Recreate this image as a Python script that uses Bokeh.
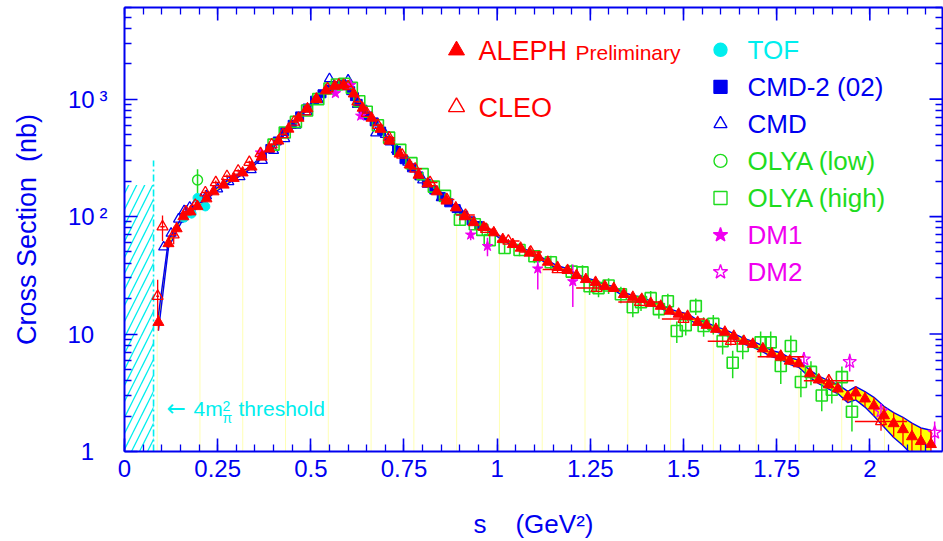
import numpy as np
from bokeh.plotting import figure
from bokeh.models import Range1d, FixedTicker, LinearAxis, LogAxis
from bokeh.core.properties import value
from bokeh.embed import file_html
from bokeh.resources import INLINE

# ---------------- data ----------------
m_pi = 0.13957
threshold = 4 * m_pi ** 2
hatch_top = 186.0
thr_line_top = 300.0

aleph_s = [0.091, 0.118, 0.140, 0.158, 0.177, 0.196, 0.220, 0.239, 0.266, 0.293,
           0.317, 0.341, 0.368, 0.389, 0.413, 0.440, 0.467, 0.491, 0.515, 0.540,
           0.564, 0.588, 0.615, 0.639, 0.663, 0.687, 0.711, 0.738, 0.765, 0.789,
           0.813, 0.838, 0.864, 0.889, 0.913, 0.937, 0.964, 0.991, 1.015, 1.042,
           1.063, 1.087, 1.111, 1.136, 1.162, 1.189, 1.213, 1.238, 1.264, 1.289,
           1.313, 1.340, 1.364, 1.388, 1.412, 1.439, 1.463, 1.487, 1.511, 1.538,
           1.562, 1.587, 1.611, 1.635, 1.662, 1.686, 1.713, 1.737, 1.761, 1.785,
           1.809, 1.839, 1.863, 1.890, 1.914, 1.941, 1.962, 1.987, 2.011, 2.038,
           2.064, 2.089, 2.113, 2.137, 2.164]
aleph_sig = [12.6, 59, 79, 100, 110, 122, 142, 163, 186, 212,
             236, 265, 322, 377, 441, 557, 690, 830, 1000, 1180,
             1290, 1318, 1110, 840, 690, 555, 440, 342, 276, 226,
             190, 163, 136, 119, 100, 89, 81, 73, 64, 58,
             54, 49, 45, 41, 37, 34.9, 31.6, 29.2, 27.6, 25.5,
             24.5, 21.8, 20.6, 19.8, 18.3, 17.3, 15.7, 14.8, 14.2, 12.6,
             11.9, 11.0, 10.4, 9.6, 8.7, 8.2, 7.5, 6.8, 6.5, 5.9,
             5.6, 4.6, 4.08, 3.7, 3.42, 2.93, 3.16, 2.81, 2.45, 2.02,
             1.73, 1.54, 1.34, 1.22, 1.15]
aleph_rel = [0.15, 0.08, 0.05, 0.04, 0.04, 0.03, 0.03, 0.03, 0.03, 0.03,
             0.03, 0.025, 0.02, 0.02, 0.02, 0.02, 0.015, 0.015, 0.015, 0.015,
             0.015, 0.015, 0.015, 0.015, 0.015, 0.015, 0.02, 0.02, 0.02, 0.02,
             0.02, 0.02, 0.02, 0.02, 0.02, 0.025, 0.025, 0.025, 0.025, 0.025,
             0.025, 0.03, 0.03, 0.03, 0.03, 0.03, 0.03, 0.03, 0.035, 0.035,
             0.035, 0.035, 0.035, 0.04, 0.04, 0.04, 0.04, 0.045, 0.045, 0.045,
             0.05, 0.05, 0.05, 0.05, 0.055, 0.055, 0.06, 0.06, 0.065, 0.065,
             0.07, 0.07, 0.075, 0.08, 0.09, 0.11, 0.13, 0.15, 0.18, 0.20,
             0.24, 0.27, 0.30, 0.30, 0.32]

cleo_s = [0.089, 0.102, 0.132, 0.165, 0.190, 0.217, 0.245, 0.275, 0.305, 0.335,
          0.365, 0.395, 0.425, 0.455, 0.485, 0.515, 0.545, 0.575, 0.600, 0.625,
          0.650, 0.680, 0.710, 0.745, 0.780, 0.820, 0.865, 0.915, 0.970, 1.030,
          1.090, 1.162, 1.267, 1.383, 1.500, 1.627, 1.761, 1.890, 2.030]
cleo_sig = [21, 82, 70, 110, 125, 160, 195, 220, 245, 290,
            345, 410, 500, 640, 780, 1000, 1230, 1320, 1280, 950,
            760, 600, 470, 335, 255, 195, 140, 103, 78, 62,
            50, 35.5, 24.6, 18.7, 13.4, 8.7, 6.4, 4.0, 1.8]
cleo_yerr = [8, 20, 12, 8, 8, 8, 8, 8, 8, 9,
             10, 12, 14, 18, 20, 25, 30, 30, 30, 25,
             20, 16, 13, 10, 8, 6, 5, 4, 3, 2.5,
             2, 2, 1.4, 1.1, 0.9, 0.7, 0.6, 0.5, 0.3]
cleo_xerr = [0.004, 0.006, 0.008, 0.01, 0.01, 0.01, 0.01, 0.01, 0.01, 0.01,
             0.01, 0.01, 0.01, 0.01, 0.012, 0.012, 0.012, 0.012, 0.012, 0.012,
             0.012, 0.015, 0.015, 0.015, 0.018, 0.02, 0.02, 0.025, 0.025, 0.03,
             0.03, 0.04, 0.055, 0.058, 0.058, 0.062, 0.062, 0.067, 0.07]

cmd2_s = [0.370, 0.390, 0.410, 0.430, 0.450, 0.470, 0.490, 0.510, 0.530, 0.550,
          0.570, 0.585, 0.597, 0.607, 0.617, 0.627, 0.640, 0.655, 0.670, 0.690,
          0.710, 0.730, 0.750, 0.770, 0.790, 0.810, 0.830, 0.850, 0.870, 0.890,
          0.910, 0.930, 0.950]
cmd2_sig = [330, 380, 440, 530, 610, 720, 840, 980, 1110, 1220,
            1300, 1330, 1300, 1180, 1050, 920, 820, 720, 640, 535,
            440, 365, 305, 260, 222, 192, 168, 148, 131, 117,
            103, 92, 84]

cmd_s = [0.105, 0.125, 0.145, 0.160, 0.175, 0.190, 0.205, 0.220, 0.250, 0.280,
         0.310, 0.340, 0.370, 0.400, 0.430, 0.460, 0.490, 0.520, 0.550, 0.575,
         0.600, 0.625, 0.650, 0.674, 0.700, 0.730, 0.760, 0.800, 0.850, 0.900]
cmd_sig = [55, 72, 95, 112, 120, 128, 140, 150, 172, 198,
           218, 250, 300, 365, 460, 600, 780, 990, 1490, 1300,
           1450, 900, 720, 515, 500, 370, 290, 205, 145, 110]

tof_s = [0.160, 0.180, 0.196, 0.217]
tof_sig = [98, 106, 144, 122]
tof_err = [8, 9, 12, 10]

olya_low_s = [0.196]
olya_low_sig = [205]
olya_low_err = [48]

olya_s = [0.40, 0.43, 0.46, 0.49, 0.52, 0.55, 0.57, 0.59, 0.61, 0.63,
          0.65, 0.68, 0.71, 0.74, 0.77, 0.80, 0.83, 0.86, 0.90, 0.94,
          0.96, 0.98, 1.02, 1.06, 1.10, 1.144, 1.20, 1.229, 1.248, 1.272,
          1.299, 1.332, 1.364, 1.386, 1.412, 1.434, 1.458, 1.482, 1.506, 1.533,
          1.554, 1.580, 1.605, 1.632, 1.659, 1.707, 1.734, 1.761, 1.788, 1.815,
          1.842, 1.871, 1.898, 1.925, 1.952]
olya_sig = [410, 520, 640, 800, 1000, 1230, 1330, 1350, 1250, 960,
            780, 600, 470, 370, 285, 230, 180, 150, 94, 86,
            77, 63, 54, 52, 46, 40.8, 34, 33.5, 25.5, 24.6,
            25.9, 21.8, 16.9, 18.7, 20.2, 16.3, 19.0, 10.6, 11.9, 17.3,
            11.7, 12.2, 8.7, 5.7, 7.9, 8.5, 8.5, 5.35, 7.9, 3.9,
            4.76, 3.0, 3.36, 4.3, 2.18]
olya_err = [16, 20, 25, 30, 35, 40, 40, 40, 40, 35,
            30, 24, 19, 15, 12, 10, 8, 7, 9, 8,
            8, 7, 6, 6, 6, 5.5, 5, 5, 4, 4,
            4, 3.5, 3, 3, 3, 2.8, 3, 2.2, 2.2, 2.8,
            2.2, 2.3, 2, 1.5, 1.8, 2, 2, 1.6, 1.8, 1.0,
            1.1, 0.8, 0.8, 1.0, 0.7]

dm1_s = [0.365, 0.566, 0.607, 0.634, 0.929, 0.974, 1.109, 1.203]
dm1_sig = [350, 1120, 1318, 720, 70, 56, 36, 28]
dm1_err = [30, 60, 60, 50, 7, 10, 12, 11]

dm2_s = [1.823, 1.946, 2.030, 2.174]
dm2_sig = [6.1, 5.8, 2.2, 1.45]
dm2_err = [0.9, 1.0, 0.35, 0.35]

bin_edges = [0.0877, 0.2025, 0.3173, 0.4321, 0.5469, 0.6617, 0.7765, 0.8913, 1.0061, 1.1209,
             1.2357, 1.3505, 1.4653, 1.5801, 1.6949, 1.8097, 1.9245, 2.0393, 2.1541]
bin_tops = [12, 135, 235, 560, 1200, 700, 250, 107, 68, 45,
            31, 22, 15.5, 11, 8, 5.6, 3.3, 2.0, 1.35]

x_major = [0, 0.25, 0.5, 0.75, 1, 1.25, 1.5, 1.75, 2]
x_labels = ["0", "0.25", "0.5", "0.75", "1", "1.25", "1.5", "1.75", "2"]
y_major = [1, 10, 100, 1000]
y_labels = ["1\u2007", "10\u2007", "10\u2009\u00b2", "10\u2009\u00b3"]

# ---------------- layout ----------------
W, H = 943, 541
L, R, T, B = 124, 1, 7, 88
FW, FH = W - L - R, H - T - B
X_MAX = 2.195
LOG_MAX = 3.78

def xs(px):
    return (px - L) / FW * X_MAX

def ys(py):
    return 10 ** ((T + FH - py) / FH * LOG_MAX)

RED = "#ff0000"
BLUE = "#0000f0"
CYAN = "#00eeee"
GREEN = "#1edc1e"
MAG = "#f000f0"
FONT = "Liberation Sans"

p = figure(width=W, height=H, x_range=Range1d(0, X_MAX), y_range=Range1d(1, 10 ** LOG_MAX),
           y_axis_type="log", output_backend="svg", toolbar_location=None,
           min_border_left=L, min_border_right=R, min_border_top=T, min_border_bottom=B)
p.grid.visible = False
p.outline_line_color = None
p.background_fill_color = "white"
p.border_fill_color = "white"

x_minor = [round(0.05 * i, 2) for i in range(0, 44)]
y_minor = [k * 10 ** d for d in range(0, 4) for k in range(2, 10) if k * 10 ** d < 10 ** LOG_MAX]

def style(ax):
    ax.axis_line_color = BLUE
    ax.axis_line_width = 2
    ax.major_tick_line_color = BLUE
    ax.minor_tick_line_color = BLUE
    ax.major_tick_line_width = 1.6
    ax.minor_tick_line_width = 1.3
    ax.major_tick_in = 13
    ax.major_tick_out = 0
    ax.minor_tick_in = 7
    ax.minor_tick_out = 0

p.xaxis.ticker = FixedTicker(ticks=x_major, minor_ticks=x_minor)
p.yaxis.ticker = FixedTicker(ticks=y_major, minor_ticks=y_minor)
style(p.xaxis[0])
style(p.yaxis[0])
p.xaxis.major_label_overrides = {float(v): t for v, t in zip(x_major, x_labels)}
p.xaxis.major_label_text_font = FONT
p.xaxis.major_label_text_font_size = "24px"
p.xaxis.major_label_text_color = BLUE
p.xaxis.major_label_standoff = 8
p.xaxis.axis_label = "s\u00a0\u00a0\u00a0\u00a0(GeV\u00b2)"
p.xaxis.axis_label_text_font = FONT
p.xaxis.axis_label_text_font_size = "26px"
p.xaxis.axis_label_text_font_style = "normal"
p.xaxis.axis_label_text_color = BLUE
p.xaxis.axis_label_standoff = 29

p.yaxis.major_label_overrides = {float(v): t for v, t in zip(y_major, y_labels)}
p.yaxis.major_label_text_font = FONT
p.yaxis.major_label_text_font_size = "24px"
p.yaxis.major_label_text_color = BLUE
p.yaxis.major_label_standoff = 17
p.yaxis.axis_label = "Cross Section\u00a0\u00a0(nb)"
p.yaxis.axis_label_text_font = FONT
p.yaxis.axis_label_text_font_size = "27px"
p.yaxis.axis_label_text_font_style = "normal"
p.yaxis.axis_label_text_color = BLUE
p.yaxis.axis_label_standoff = 22

# top / right frame axes: only short ticks (no labels); long ticks added below
top_ax = LinearAxis(ticker=FixedTicker(ticks=[], minor_ticks=x_minor))
style(top_ax)
p.add_layout(top_ax, "above")
right_ax = LogAxis(ticker=FixedTicker(ticks=[], minor_ticks=y_minor))
style(right_ax)
p.add_layout(right_ax, "right")

# long (major) ticks on the top and right frame edges
p.segment(x0=x_major, y0=[ys(T)] * len(x_major), x1=x_major, y1=[ys(T + 13)] * len(x_major),
          line_color=BLUE, line_width=1.6)
p.segment(x0=[X_MAX] * len(y_major), y0=y_major, x1=[xs(L + FW - 13)] * len(y_major), y1=y_major,
          line_color=BLUE, line_width=1.6)

# ---------------- marks ----------------
p.segment(x0=bin_edges, y0=[1] * len(bin_edges), x1=bin_edges, y1=bin_tops,
          line_color="#ffffb4", line_width=1)

p.quad(left=[0], right=[threshold], bottom=[1], top=[hatch_top], fill_color=None, line_color=None,
       hatch_pattern="/", hatch_color=CYAN, hatch_scale=16, hatch_weight=1.3)
p.segment(x0=[threshold], y0=[1], x1=[threshold], y1=[thr_line_top], line_color=CYAN,
          line_width=1.6, line_dash="7 3 2 3")

a_s = np.array(aleph_s)
a_v = np.array(aleph_sig)
a_r = np.array(aleph_rel)
lo = a_v * (1 - a_r)
hi = a_v * (1 + a_r)
p.varea(x=a_s, y1=lo, y2=hi, fill_color="#ffff00")
p.line(a_s, lo, line_color=BLUE, line_width=1.4)
p.line(a_s, hi, line_color=BLUE, line_width=1.4)

def vbars(sx, sv, se, color, width=1.3):
    sx = np.array(sx, dtype=float); sv = np.array(sv, dtype=float); se = np.array(se, dtype=float)
    p.segment(x0=sx, y0=np.maximum(sv - se, 1.0001), x1=sx, y1=sv + se, line_color=color, line_width=width)

p.scatter(cmd2_s, cmd2_sig, marker="square", size=8, fill_color=BLUE, line_color=BLUE)
p.scatter(cmd_s, cmd_sig, marker="triangle", size=10, fill_color=None, line_color=BLUE, line_width=1.3)
vbars(olya_s, olya_sig, olya_err, GREEN, 1.5)
p.scatter(olya_s, olya_sig, marker="square", size=11, fill_color=None, line_color=GREEN, line_width=1.6)
vbars(olya_low_s, olya_low_sig, olya_low_err, GREEN, 1.5)
p.scatter(olya_low_s, olya_low_sig, marker="circle", size=10, fill_color=None, line_color=GREEN, line_width=1.4)
vbars(tof_s, tof_sig, tof_err, CYAN)
p.scatter(tof_s, tof_sig, marker="circle", size=9, fill_color=CYAN, line_color=CYAN)
vbars(dm1_s, dm1_sig, dm1_err, MAG, 1.5)
p.scatter(dm1_s, dm1_sig, marker="star", size=11, fill_color=MAG, line_color=MAG)
vbars(dm2_s, dm2_sig, dm2_err, MAG, 1.5)
p.scatter(dm2_s, dm2_sig, marker="star", size=14, fill_color=None, line_color=MAG, line_width=1.3)
c_s = np.array(cleo_s); c_v = np.array(cleo_sig); c_xe = np.array(cleo_xerr)
vbars(cleo_s, cleo_sig, cleo_yerr, RED, 1.3)
p.segment(x0=c_s - c_xe, y0=c_v, x1=c_s + c_xe, y1=c_v, line_color=RED, line_width=1.5)
p.scatter(cleo_s, cleo_sig, marker="triangle", size=11, fill_color=None, line_color=RED, line_width=1.3)
vbars(aleph_s, aleph_sig, list(a_v * a_r), RED, 1.3)
p.scatter(aleph_s, aleph_sig, marker="triangle", size=11, fill_color=RED, line_color=RED)

# ---------------- legend ----------------
def txt(px, pyc, s, color, size, font=FONT):
    p.text(x=[xs(px)], y=[ys(pyc)], text=[s], text_color=color, text_font=value(font),
           text_font_size=size, text_align="left", text_baseline="middle")

p.scatter([xs(456)], [ys(50)], marker="triangle", size=16, fill_color=RED, line_color=RED)
txt(478, 50.5, "ALEPH", RED, "27px")
txt(575, 52, "Preliminary", RED, "21px")
p.scatter([xs(456)], [ys(107)], marker="triangle", size=16, fill_color=None, line_color=RED, line_width=1.4)
txt(478, 108, "CLEO", RED, "27px")

leg = [("circle", CYAN, True, "TOF"),
       ("square", BLUE, True, "CMD-2 (02)"),
       ("triangle", BLUE, False, "CMD"),
       ("circle", GREEN, False, "OLYA (low)"),
       ("square", GREEN, False, "OLYA (high)"),
       ("star", MAG, True, "DM1"),
       ("star", MAG, False, "DM2")]
for i, (mk, col, filled, lab) in enumerate(leg):
    yc = 49.5 + 37.2 * i
    p.scatter([xs(720)], [ys(yc)], marker=mk, size=15 if mk == "star" else 13,
              fill_color=col if filled else None, line_color=col, line_width=1.4)
    txt(747, yc, lab, col, "26px")

# threshold annotation
txt(166, 409.5, "\u2190", CYAN, "23px", "DejaVu Sans")
txt(193, 409.5, "4m", CYAN, "21px")
txt(222, 407, "2", CYAN, "14px")
txt(222, 419, "\u03c0", CYAN, "14px")
txt(238, 409.5, "threshold", CYAN, "21px")

open("out.html", "w").write(file_html(p, INLINE))
